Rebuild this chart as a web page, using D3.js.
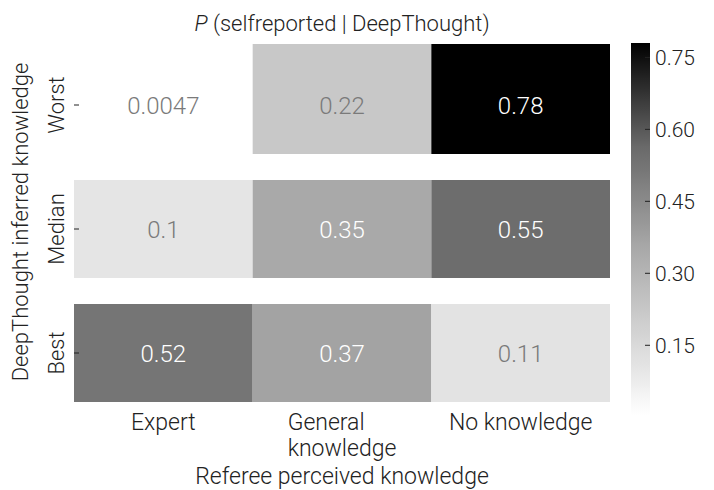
<!DOCTYPE html>
<html>
<head>
<meta charset="utf-8">
<script src="https://cdn.jsdelivr.net/npm/d3@7"></script>
<style>
  body { margin: 0; background: #fff; }
  text { font-family: Roboto, "Liberation Sans", sans-serif; font-weight: 300; }
</style>
</head>
<body>
<div id="chart"></div>
<script>
const rows = ["Worst", "Median", "Best"];
const cols = ["Expert", "General knowledge", "No knowledge"];
const colLabels = [["Expert"], ["General", "knowledge"], ["No knowledge"]];
const values = [
  [0.0047, 0.22, 0.78],
  [0.1, 0.35, 0.55],
  [0.52, 0.37, 0.11]
];
const cbTicks = [0.15, 0.30, 0.45, 0.60, 0.75];
const vmin = 0.0047, vmax = 0.78;

const width = 714, height = 490;
const svg = d3.select("#chart").append("svg")
    .attr("width", width)
    .attr("height", height);

const x = d3.scaleBand().domain(cols).range([74, 610]);
const y = d3.scaleBand().domain(rows).range([43, 415]);

// grey ramp, light to black
const tStops = [0, 0.12, 0.28, 0.45, 0.67, 0.72, 1];
const gStops = [255, 230, 200, 168, 116, 106, 0];
const color = d3.scaleLinear()
    .domain(tStops.map(t => vmin + t * (vmax - vmin)))
    .range(gStops.map(g => d3.rgb(g, g, g)))
    .clamp(true);
const grey = v => d3.rgb(color(v)).r;

const fmt = d3.format(".2~g");

const cells = [];
values.forEach((r, i) => r.forEach((v, j) => cells.push({row: rows[i], col: cols[j], v: v, i: i})));

svg.append("g").selectAll("rect")
    .data(cells)
    .enter().append("rect")
    .attr("x", d => x(d.col))
    .attr("y", d => y(d.row) + (d.i === 0 ? 1 : 13))
    .attr("width", x.bandwidth())
    .attr("height", d => y.bandwidth() - 13 - (d.i === 0 ? 1 : 13))
    .attr("fill", d => color(d.v));

svg.append("g").selectAll("text")
    .data(cells)
    .enter().append("text")
    .attr("x", d => x(d.col) + x.bandwidth() / 2)
    .attr("y", d => y(d.row) + y.bandwidth() / 2)
    .attr("dy", "0.36em")
    .attr("text-anchor", "middle")
    .style("font-size", "24px")
    .attr("fill", d => grey(d.v) < 180 ? "#ffffff" : "#7a7a7a")
    .text(d => fmt(d.v));

// y ticks
const yTicks = svg.append("g");
rows.forEach(r => {
  const cy = y(r) + y.bandwidth() / 2;
  yTicks.append("line")
      .attr("x1", 74).attr("x2", 79)
      .attr("y1", cy).attr("y2", cy)
      .attr("stroke", "#222").attr("stroke-width", 1);
  yTicks.append("text")
      .attr("transform", `translate(64,${cy}) rotate(-90)`)
      .attr("text-anchor", "middle")
      .style("font-size", "22px")
      .attr("fill", "#222")
      .text(r);
});

// x tick labels (multi-line labels are left aligned, block centred)
cols.forEach((c, j) => {
  const cx = x(c) + x.bandwidth() / 2;
  const t = svg.append("text")
      .attr("y", 430)
      .style("font-size", "23px")
      .attr("fill", "#222");
  const spans = colLabels[j].map((line, k) =>
    t.append("tspan")
        .attr("dy", k === 0 ? 0 : 26)
        .text(line));
  const w = d3.max(spans, s => s.node().getComputedTextLength());
  spans.forEach(s => s.attr("x", cx - w / 2));
});

// axis titles
svg.append("text")
    .attr("x", 342).attr("y", 484)
    .attr("text-anchor", "middle")
    .style("font-size", "23px")
    .attr("fill", "#222")
    .text("Referee perceived knowledge");

svg.append("text")
    .attr("transform", "translate(28,222) rotate(-90)")
    .attr("text-anchor", "middle")
    .style("font-size", "22px")
    .attr("fill", "#222")
    .text("DeepThought inferred knowledge");

const title = svg.append("text")
    .attr("x", 342).attr("y", 31)
    .attr("text-anchor", "middle")
    .style("font-size", "22px")
    .attr("fill", "#222");
title.append("tspan").style("font-style", "italic").text("P");
title.append("tspan").text(" (selfreported | DeepThought)");

// colorbar
const cb = d3.scaleLinear().domain([vmin, vmax]).range([415, 43]);
const grad = svg.append("defs").append("linearGradient")
    .attr("id", "cbgrad")
    .attr("x1", "0%").attr("x2", "0%")
    .attr("y1", "100%").attr("y2", "0%");
d3.range(0, 1.0001, 0.02).forEach(t => {
  grad.append("stop")
      .attr("offset", `${t * 100}%`)
      .attr("stop-color", color(vmin + t * (vmax - vmin)));
});
svg.append("rect")
    .attr("x", 631).attr("y", 43)
    .attr("width", 19).attr("height", 372)
    .attr("fill", "url(#cbgrad)");

const cbAxis = svg.append("g");
cbTicks.forEach(v => {
  cbAxis.append("line")
      .attr("x1", 645).attr("x2", 650)
      .attr("y1", cb(v)).attr("y2", cb(v))
      .attr("stroke", "#222");
  cbAxis.append("text")
      .attr("x", 655).attr("y", cb(v))
      .attr("dy", "0.36em")
      .style("font-size", "21px")
      .attr("fill", "#222")
      .text(d3.format(".2f")(v));
});
</script>
</body>
</html>
